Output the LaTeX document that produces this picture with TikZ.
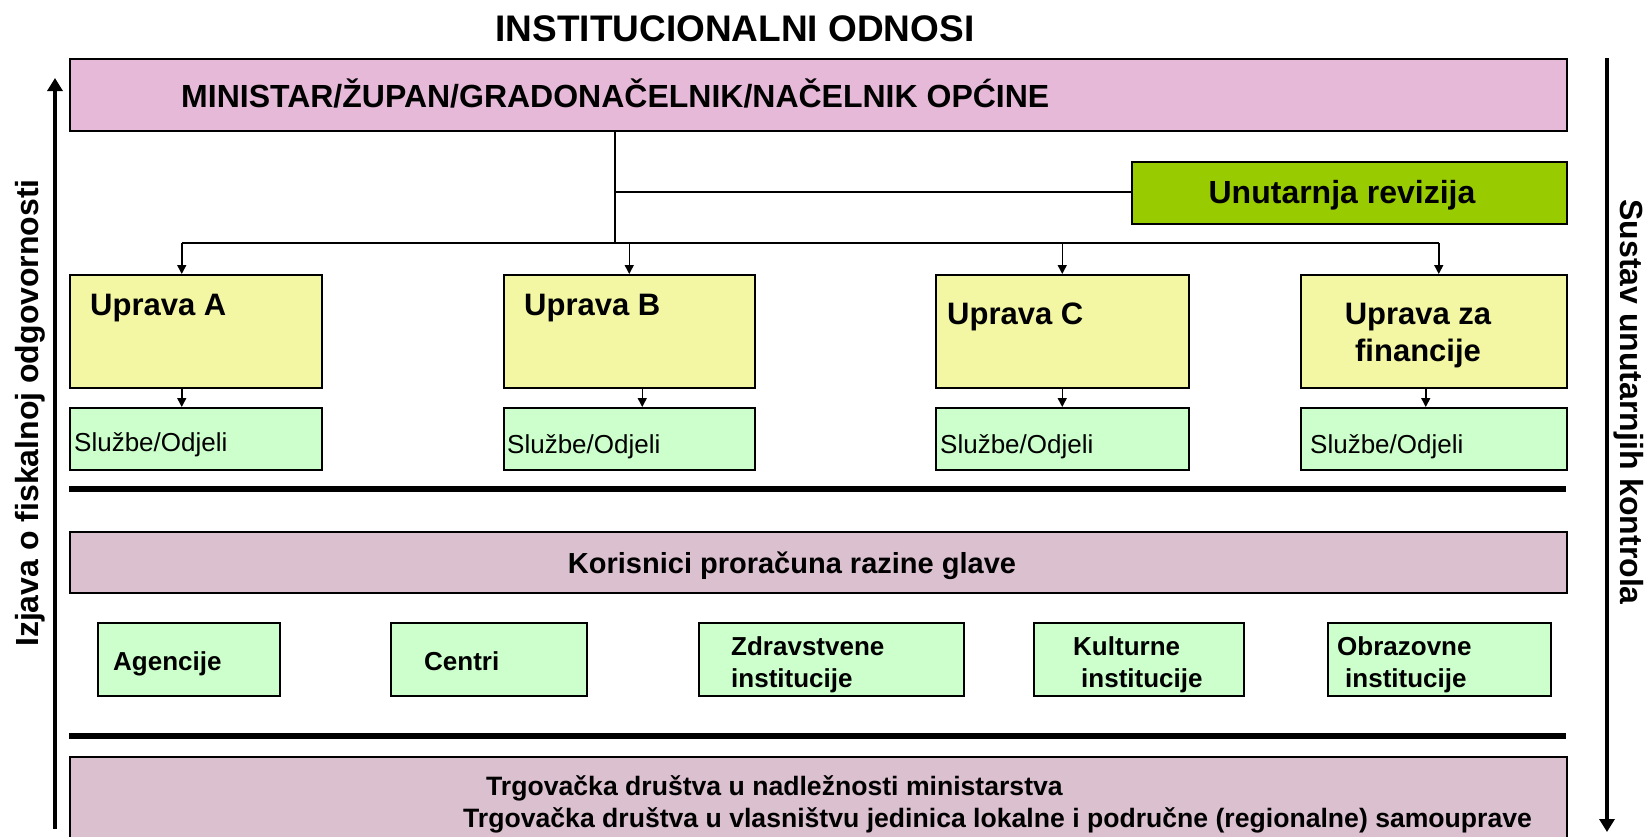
\documentclass[tikz,border=0pt]{standalone}
\usepackage{fontspec}
\setmainfont{Liberation Sans}
\usepackage{tikz}
\usetikzlibrary{positioning}
\usetikzlibrary{arrows.meta}

\definecolor{topPink}{HTML}{E6B9D8}
\definecolor{revGreen}{HTML}{99CC00}
\definecolor{upYellow}{HTML}{F3F7A3}
\definecolor{slGreen}{HTML}{CCFFCC}
\definecolor{korPink}{HTML}{DBC0CF}

\tikzset{
  box/.style={draw, line width=1.5pt, inner sep=0pt, anchor=north west},
  txt/.style={inner sep=0pt},
  bigtxt/.style={txt, font=\fontsize{31}{37}\selectfont\bfseries},
  midtxt/.style={txt, font=\fontsize{26}{32}\selectfont\bfseries},
  sltxt/.style={txt, font=\fontsize{26}{32}\selectfont},
  sidetxt/.style={txt, font=\fontsize{32}{38}\selectfont\bfseries},
  conn/.style={line width=1.5pt},
  arr/.style={conn, -{Triangle[width=9pt,length=9pt]}},
  sidearr/.style={line width=4pt, -{Triangle[width=15pt,length=13pt]}},
  sepline/.style={line width=6pt}
}

\begin{document}
\begin{tikzpicture}[x=1pt,y=-1pt]
	  \useasboundingbox (0,0) rectangle (1650,836);
	  \node[txt, font=\fontsize{37}{44}\selectfont\bfseries, anchor=base] (T) at (735,41) {INSTITUCIONALNI ODNOSI};

	  % vrh
	  \node[box, fill=topPink, minimum width=1497, minimum height=72] (M) at (69,58) {};
	  \node[bigtxt, font=\fontsize{32}{38}\selectfont\bfseries, anchor=base west] (Mt) at (181,107) {MINISTAR/ŽUPAN/GRADONAČELNIK/NAČELNIK OPĆINE};
	  \node[box, fill=revGreen, minimum width=435, minimum height=62] (RV) at (1131,161) {};
	  \node[bigtxt, font=\fontsize{32}{38}\selectfont\bfseries, anchor=base] (RVt) at (1342,203) {Unutarnja revizija};

	  % uprave
	  \node[box, fill=upYellow, minimum width=252, minimum height=113] (UA) at (69,274) {};
	  \node[box, fill=upYellow, minimum width=251, minimum height=113] (UB) at (503,274) {};
	  \node[box, fill=upYellow, minimum width=253, minimum height=113] (UC) at (935,274) {};
	  \node[box, fill=upYellow, minimum width=266, minimum height=113] (UD) at (1300,274) {};
	  \node[bigtxt, anchor=base west] (UAt) at (90,315) {Uprava A};
	  \node[bigtxt, anchor=base west] (UBt) at (524,315) {Uprava B};
	  \node[bigtxt, anchor=base west] (UCt) at (947,324) {Uprava C};
	  \node[bigtxt, align=center] (UDt) at (1418,336) {Uprava za\\financije};

	  % sluzbe
	  \node[box, fill=slGreen, minimum width=252, minimum height=62] (SA) at (69,407) {};
	  \node[box, fill=slGreen, minimum width=251, minimum height=62] (SB) at (503,407) {};
	  \node[box, fill=slGreen, minimum width=253, minimum height=62] (SC) at (935,407) {};
	  \node[box, fill=slGreen, minimum width=266, minimum height=62] (SD) at (1300,407) {};
	  \node[sltxt, anchor=base west] (SAt) at (74,451) {Službe/Odjeli};
	  \node[sltxt, anchor=base west] (SBt) at (507,453) {Službe/Odjeli};
	  \node[sltxt, anchor=base west] (SCt) at (940,453) {Službe/Odjeli};
	  \node[sltxt, anchor=base west] (SDt) at (1310,453) {Službe/Odjeli};

	  % veze
	  \coordinate (J) at (615,243);
	  \coordinate (R) at (615,192);
	  \draw[conn] (M.south -| J) -- (J);
	  \draw[conn] (R) -- (RV.west |- R);
	  \draw[conn] ([xshift=-14pt]UA.north |- J) -- ([xshift=5pt]UD.north |- J);
	  \draw[arr] ([xshift=-14pt]UA.north |- J) -- ([xshift=-14pt]UA.north);
	  \foreach \u in {UB,UC}
	    \draw[arr] (\u.north |- J) -- (\u.north);
	  \draw[arr] ([xshift=5pt]UD.north |- J) -- ([xshift=5pt]UD.north);
	  \draw[arr] ([xshift=-14pt]UA.south) -- ([xshift=-14pt]SA.north);
	  \draw[arr] ([xshift=13pt]UB.south) -- ([xshift=13pt]SB.north);
	  \draw[arr] (UC.south) -- (SC.north);
	  \draw[arr] ([xshift=-8pt]UD.south) -- ([xshift=-8pt]SD.north);

	  \draw[sepline] (69,489) -- (1566,489);

	  % korisnici
	  \node[box, fill=korPink, minimum width=1497, minimum height=61] (K) at (69,531) {};
	  \node[txt, font=\fontsize{29}{35}\selectfont\bfseries, anchor=base] (Kt) at (792,573) {Korisnici proračuna razine glave};
	  \node[box, fill=slGreen, minimum width=182, minimum height=73] (AG) at (97,622) {};
	  \node[box, fill=slGreen, minimum width=196, minimum height=73] (CE) at (390,622) {};
	  \node[box, fill=slGreen, minimum width=265, minimum height=73] (ZI) at (698,622) {};
	  \node[box, fill=slGreen, minimum width=210, minimum height=73] (KI) at (1033,622) {};
	  \node[box, fill=slGreen, minimum width=223, minimum height=73] (OI) at (1327,622) {};
	  \node[midtxt, anchor=base west] (AGt) at (113,670) {Agencije};
	  \node[midtxt, anchor=base west] (CEt) at (424,670) {Centri};
	  \node[midtxt, anchor=west, align=left] (ZIt) at (731,665) {Zdravstvene\\institucije};
	  \node[midtxt, anchor=west, align=left] (KIt) at (1073,665) {Kulturne\\\hspace*{8pt}institucije};
	  \node[midtxt, anchor=west, align=left] (OIt) at (1337,665) {Obrazovne\\\hspace*{8pt}institucije};

	  \draw[sepline] (69,736) -- (1566,736);

	  % trgovacka drustva
	  \node[box, fill=korPink, minimum width=1497, minimum height=90] (TD) at (69,756) {};
	  \node[midtxt, font=\fontsize{26.6}{32}\selectfont\bfseries, anchor=west, align=left] (TDt) at (463,804) {\hspace*{23pt}Trgovačka društva u nadležnosti ministarstva\\Trgovačka društva u vlasništvu jedinica lokalne i područne (regionalne) samouprave};

	  % bocne strelice
	  \coordinate (L0) at (55,829);
	  \coordinate (L1) at (55,78);
	  \coordinate (D0) at (1607,58);
	  \coordinate (D1) at (1607,832);
	  \draw[sidearr] (L0) -- (L1);
	  \draw[sidearr] (D0) -- (D1);
	  \node[sidetxt, rotate=90, anchor=base] (IZ) at (38,413) {Izjava o fiskalnoj odgovornosti};
	  \node[sidetxt, rotate=-90, anchor=base] (SU) at (1620,402) {Sustav unutarnjih kontrola};
	\end{tikzpicture}
\end{document}
